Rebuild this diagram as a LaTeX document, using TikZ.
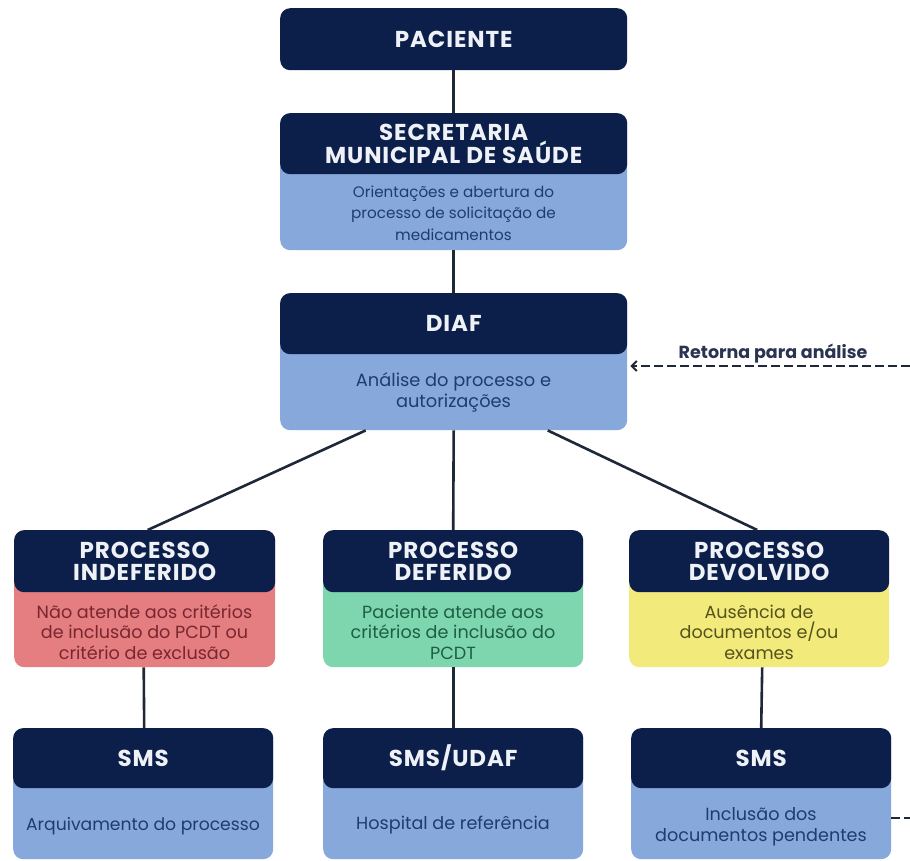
\documentclass[tikz,border=0pt]{standalone}
\usepackage{fontspec}
\setmainfont{Poppins}
\usetikzlibrary{arrows.meta}
\definecolor{navy}{HTML}{0C1E4A}
\definecolor{lightblue}{HTML}{87A8DA}
\definecolor{salmon}{HTML}{E47E80}
\definecolor{mint}{HTML}{7ED6AE}
\definecolor{lemon}{HTML}{F2EB7C}
\definecolor{bluetext}{HTML}{1F3C6E}
\definecolor{redtext}{HTML}{7A2630}
\definecolor{greentext}{HTML}{1E5E45}
\definecolor{yellowtext}{HTML}{55531C}
\definecolor{headtext}{HTML}{EEF1F6}
\definecolor{linecol}{HTML}{1E2838}
\definecolor{labeltext}{HTML}{2A3350}
\tikzset{
  base/.style={rectangle, rounded corners=10pt, inner sep=0pt, anchor=north west},
  head/.style={rectangle, rounded corners=10pt, inner sep=0pt, fill=navy, text=headtext, align=center, anchor=north,
    font=\bfseries\fontsize{23}{22}\selectfont\addfontfeatures{LetterSpace=4}},
  bodytxt/.style={align=center, inner sep=0pt, font=\fontsize{17.6}{20.5}\selectfont},
  conn/.style={draw=linecol, line width=2.6pt},
  retline/.style={draw=linecol, line width=2.2pt, dash pattern=on 9pt off 4pt},
}
\begin{document}
\begin{tikzpicture}[x=1pt,y=-1pt]
\useasboundingbox[fill=white] (0,0) rectangle (910,861);

% PACIENTE
\node[head, minimum width=347pt, minimum height=62pt, anchor=north west] (pac) at (280,8) {PACIENTE};

% SECRETARIA
\node[base, fill=lightblue, minimum width=347pt, minimum height=137pt] (sec) at (280,113) {};
\node[head, minimum width=347pt, minimum height=61pt] (sech) at (sec.north) {SECRETARIA\\MUNICIPAL DE SAÚDE};
\node[bodytxt, text=bluetext, font=\fontsize{15.2}{21.7}\selectfont] (sect) at (453.5,213) {Orientações e abertura do\\processo de solicitação de\\medicamentos};

% DIAF
\node[base, fill=lightblue, minimum width=347pt, minimum height=137pt] (diaf) at (280,293) {};
\node[head, minimum width=347pt, minimum height=61pt] (diafh) at (diaf.north) {DIAF};
\node[bodytxt, text=bluetext, font=\fontsize{17.8}{21}\selectfont] (diaft) at (453.5,392) {Análise do processo e\\autorizações};

% children
\node[base, fill=salmon, minimum width=261pt, minimum height=137pt] (ind) at (14,530) {};
\node[head, minimum width=261pt, minimum height=62pt] (indh) at (ind.north) {PROCESSO\\INDEFERIDO};
\node[bodytxt, text=redtext] (indt) at (144.5,632) {Não atende aos critérios\\de inclusão do PCDT ou\\critério de exclusão};

\node[base, fill=mint, minimum width=260pt, minimum height=137pt] (def) at (323,530) {};
\node[head, minimum width=260pt, minimum height=62pt] (defh) at (def.north) {PROCESSO\\DEFERIDO};
\node[bodytxt, text=greentext] (deft) at (453,632) {Paciente atende aos\\critérios de inclusão do\\PCDT};

\node[base, fill=lemon, minimum width=260pt, minimum height=137pt] (dev) at (629,530) {};
\node[head, minimum width=260pt, minimum height=62pt] (devh) at (dev.north) {PROCESSO\\DEVOLVIDO};
\node[bodytxt, text=yellowtext] (devt) at (759,632) {Ausência de\\documentos e/ou\\exames};

% bottom row
\node[base, fill=lightblue, minimum width=260pt, minimum height=131pt] (smsl) at (13,728) {};
\node[head, minimum width=260pt, minimum height=60pt] (smslh) at (smsl.north) {SMS};
\node[bodytxt, text=bluetext, font=\fontsize{17.2}{20.5}\selectfont] (smslt) at (143,826) {Arquivamento do processo};

\node[base, fill=lightblue, minimum width=260pt, minimum height=131pt] (smsm) at (323,728) {};
\node[head, minimum width=260pt, minimum height=60pt] (smsmh) at (smsm.north) {SMS/UDAF};
\node[bodytxt, text=bluetext] (smsmt) at (453,825) {Hospital de referência};

\node[base, fill=lightblue, minimum width=260pt, minimum height=131pt] (smsr) at (631,728) {};
\node[head, minimum width=260pt, minimum height=60pt] (smsrh) at (smsr.north) {SMS};
\node[bodytxt, text=bluetext] (smsrt) at (761,827) {Inclusão dos\\documentos pendentes};

% connectors
\draw[conn] (pac.south) -- (sec.north);
\draw[conn] (sec.south) -- (diaf.north);
\draw[conn] ([xshift=-88pt]diaf.south) -- ([xshift=3pt]ind.north);
\draw[conn] (diaf.south) -- (def.north);
\draw[conn] ([xshift=94pt]diaf.south) -- ([xshift=-2pt]dev.north);
\draw[conn] ([xshift=-1pt]ind.south) -- ([xshift=1pt]smsl.north);
\draw[conn] (def.south) -- (smsm.north);
\draw[conn] ([xshift=3pt]dev.south) -- (smsr.north);

% return dashed arrow
\coordinate (ret) at (910,366);
\draw[retline, -{Straight Barb[length=5pt,width=10pt,line width=2pt]}] (ret) -- ([xshift=3pt]diaf.east |- ret);
\node[inner sep=0pt, text=labeltext, font=\bfseries\fontsize{17.5}{19}\selectfont] (retlab) at (773,354) {Retorna para análise};
\coordinate (ret2) at (910,818);
\draw[retline] (smsr.east |- ret2) -- (ret2);
\end{tikzpicture}
\end{document}
